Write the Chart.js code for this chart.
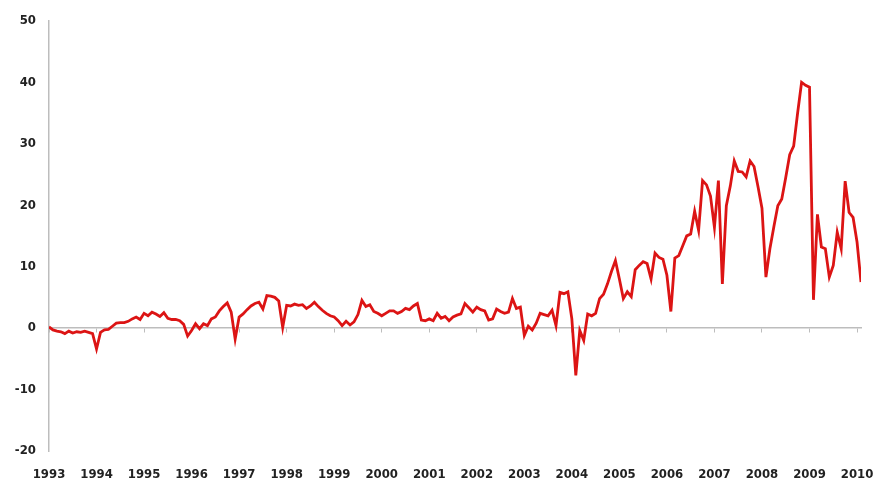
<!DOCTYPE html>
<html>
<head>
<meta charset="utf-8">
<script src="https://cdn.jsdelivr.net/npm/chart.js@4/dist/chart.umd.min.js"></script>
<style>
  html, body { margin: 0; padding: 0; background: #fff; }
  #wrap { width: 876px; height: 487px; }
</style>
</head>
<body>
<div id="wrap"><canvas id="chart"></canvas></div>
<script>
// Monthly values, one array per year (Jan..Dec)
const y1993 = [0.2, -0.3, -0.5, -0.6, -0.9, -0.5, -0.8, -0.6, -0.7, -0.5, -0.7, -0.9];
const y1994 = [-3.4, -0.7, -0.3, -0.2, 0.3, 0.8, 0.9, 0.9, 1.1, 1.5, 1.8, 1.4];
const y1995 = [2.4, 2.0, 2.6, 2.3, 1.9, 2.5, 1.6, 1.4, 1.4, 1.2, 0.6, -1.3];
const y1996 = [-0.4, 0.7, -0.1, 0.7, 0.4, 1.5, 1.8, 2.8, 3.5, 4.1, 2.6, -1.8];
const y1997 = [1.8, 2.3, 3.0, 3.6, 4.0, 4.2, 3.1, 5.3, 5.2, 5.0, 4.4, 0.1];
const y1998 = [3.7, 3.6, 3.9, 3.7, 3.8, 3.2, 3.6, 4.2, 3.5, 2.9, 2.4, 2.0];
const y1999 = [1.8, 1.2, 0.4, 1.1, 0.5, 1.0, 2.2, 4.5, 3.5, 3.8, 2.7, 2.4];
const y2000 = [2.0, 2.4, 2.8, 2.8, 2.4, 2.7, 3.2, 3.0, 3.6, 4.0, 1.3, 1.2];
const y2001 = [1.5, 1.2, 2.4, 1.6, 1.9, 1.2, 1.8, 2.1, 2.3, 4.0, 3.3, 2.6];
const y2002 = [3.4, 3.0, 2.8, 1.3, 1.5, 3.1, 2.7, 2.4, 2.6, 4.8, 3.2, 3.4];
const y2003 = [-1.2, 0.3, -0.3, 0.8, 2.4, 2.2, 2.0, 2.9, 0.4, 5.8, 5.6, 5.9];
const y2004 = [1.5, -7.7, -0.4, -2.0, 2.3, 2.0, 2.4, 4.8, 5.5, 7.2, 9.2, 11.0];
const y2005 = [8.0, 4.8, 5.9, 5.1, 9.5, 10.2, 10.8, 10.5, 8.0, 12.2, 11.5, 11.2];
const y2006 = [8.6, 2.7, 11.4, 11.8, 13.4, 15.0, 15.3, 19.0, 15.9, 24.0, 23.3, 21.5];
const y2007 = [16.4, 24.0, 7.2, 19.9, 23.1, 27.2, 25.5, 25.4, 24.6, 27.2, 26.3, 23.0];
const y2008 = [19.5, 8.3, 12.9, 16.5, 19.9, 21.0, 24.5, 28.2, 29.6, 35.0, 40.0, 39.5];
const y2009 = [39.2, 4.6, 18.5, 13.2, 12.9, 8.3, 10.2, 15.6, 12.9, 23.9, 18.8, 18.0];
const y2010 = [14.0, 7.5];

const startYear = 1993;
const yearTicks = [1993, 1994, 1995, 1996, 1997, 1998, 1999, 2000, 2001,
                   2002, 2003, 2004, 2005, 2006, 2007, 2008, 2009, 2010];
const valueTicks = [-20, -10, 0, 10, 20, 30, 40, 50];

const monthly = [].concat(y1993, y1994, y1995, y1996, y1997, y1998, y1999, y2000,
  y2001, y2002, y2003, y2004, y2005, y2006, y2007, y2008, y2009, y2010);
const points = monthly.map((v, i) => ({ x: startYear + i / 12, y: v }));
const xMax = startYear + (monthly.length - 1) / 12;

const axisGrey = '#bdbdbd';
const labelFont = { family: 'DejaVu Sans Condensed', size: 13, weight: 'bold' };
const setYearTicks = scale => { scale.ticks = yearTicks.map(v => ({ value: v })); };

new Chart(document.getElementById('chart'), {
  type: 'line',
  data: {
    datasets: [{
      data: points,
      borderColor: '#dc1414',
      borderWidth: 2.8,
      pointRadius: 0,
      tension: 0,
      fill: false
    }]
  },
  options: {
    responsive: true,
    maintainAspectRatio: false,
    animation: false,
    layout: { padding: { top: 17, right: 15, left: 0, bottom: 0 } },
    plugins: { legend: { display: false }, tooltip: { enabled: false } },
    scales: {
      x: {
        type: 'linear',
        min: startYear,
        max: xMax,
        afterBuildTicks: setYearTicks,
        afterFit: s => { s.height = 36; s.paddingLeft = 0; s.paddingRight = 0; },
        grid: { display: false },
        border: { display: false },
        ticks: { color: '#222', font: labelFont, padding: 8, maxRotation: 0, autoSkip: false,
                 callback: v => String(v) }
      },
      zero: {
        type: 'linear',
        axis: 'x',
        position: { y: 0 },
        min: startYear,
        max: xMax,
        afterBuildTicks: setYearTicks,
        afterFit: s => { s.paddingLeft = 0; s.paddingRight = 0; },
        grid: { drawOnChartArea: false, drawTicks: true, tickLength: 4, color: axisGrey },
        border: { display: true, color: axisGrey, width: 1.5 },
        ticks: { display: false }
      },
      y: {
        min: -20,
        max: 50,
        afterBuildTicks: scale => { scale.ticks = valueTicks.map(v => ({ value: v })); },
        afterFit: s => { s.width = 49; },
        grid: { display: false, drawTicks: false },
        border: { display: true, color: axisGrey, width: 1.5 },
        ticks: { color: '#222', font: labelFont, padding: 13 }
      }
    }
  }
});
</script>
</body>
</html>
